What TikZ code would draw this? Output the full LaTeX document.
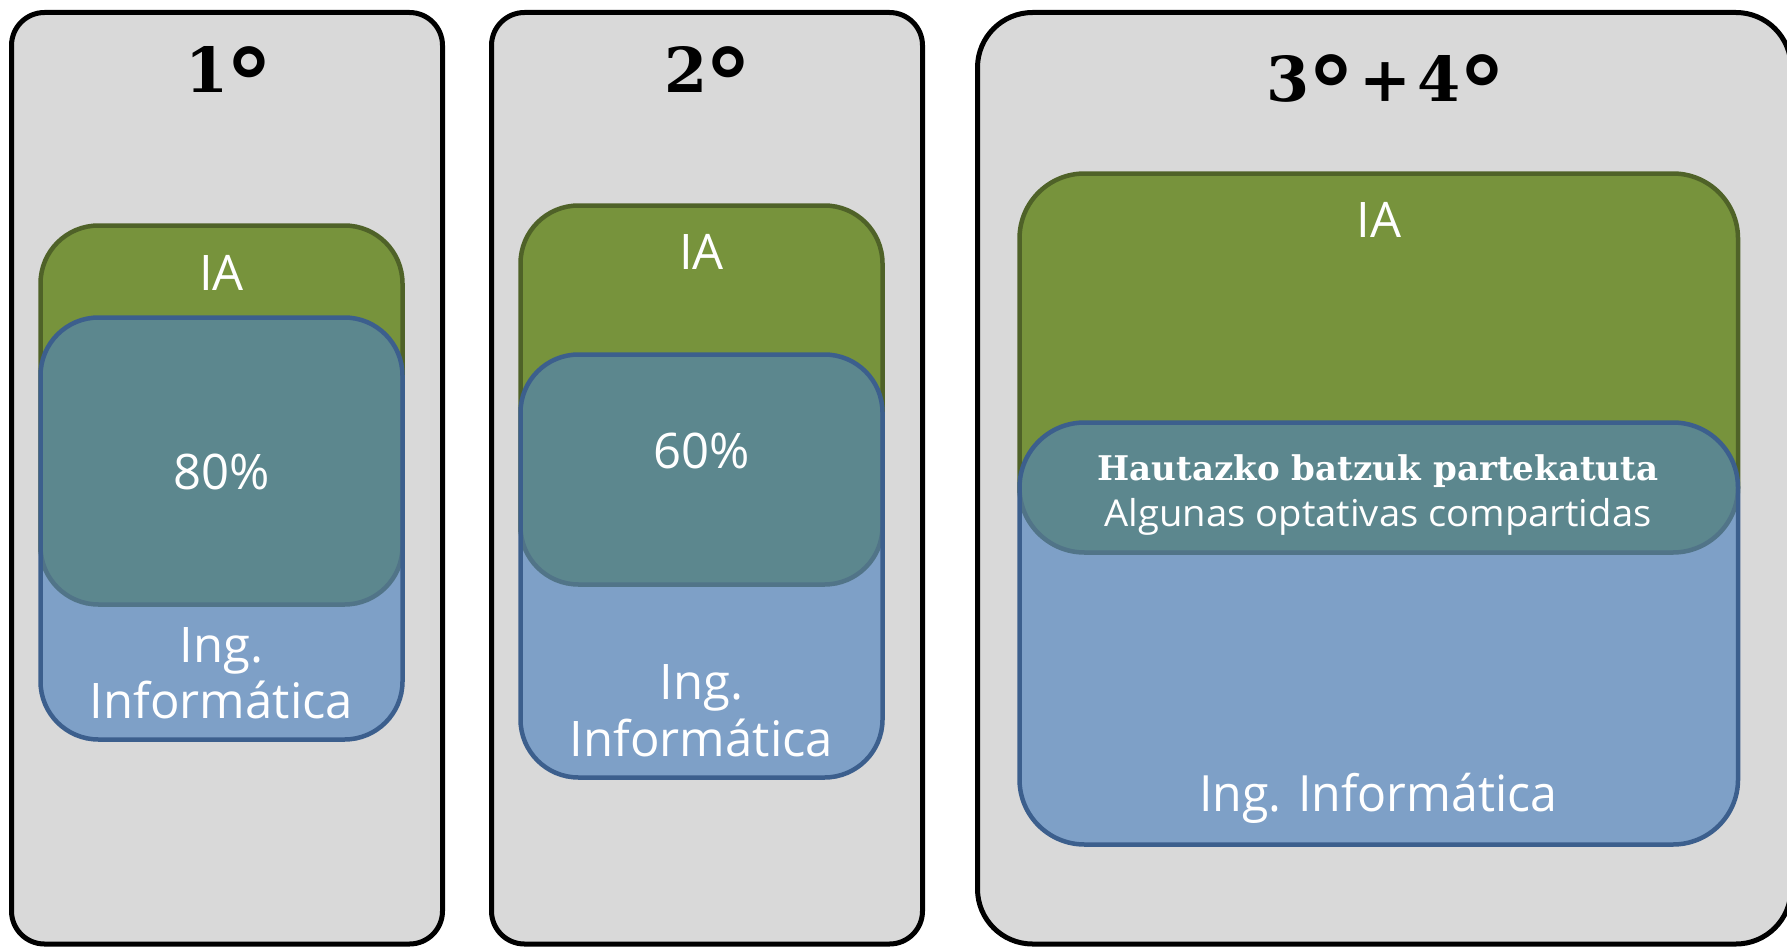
\documentclass[tikz,border=0pt]{standalone}
\usepackage{fontspec}
\usepackage{graphicx}
\setmainfont{Open Sans}
\newfontfamily\slabfont{DejaVu Serif}
\definecolor{panelgray}{HTML}{D9D9D9}
\definecolor{iagreen}{HTML}{77933C}
\definecolor{iagreenline}{HTML}{4F6228}
\definecolor{ingblue}{HTML}{7EA0C7}
\definecolor{ingblueline}{HTML}{3C5F8D}
\definecolor{overlapfill}{HTML}{5C878E}
\definecolor{overlapline}{HTML}{517488}
\newcommand\ordring{\kern-3pt{\fontsize{96}{96}\selectfont\raisebox{-25pt}{°}}\kern-3pt}
\newcommand\venncol[7]{%
  \fill[iagreen, rounded corners=#7pt] (#1,#3) rectangle (#2,#4);
  \draw[iagreenline, line width=4.5pt, rounded corners=#7pt] (#1,#3) rectangle (#2,#4);
  \fill[ingblue, rounded corners=#7pt] (#1,#5) rectangle (#2,#6);
  \begin{scope}
    \clip[rounded corners=#7pt] (#1,#5) rectangle (#2,#6);
    \fill[overlapfill, rounded corners=#7pt] (#1,#3) rectangle (#2,#4);
    \draw[overlapline, line width=4.5pt, rounded corners=#7pt] (#1,#3) rectangle (#2,#4);
  \end{scope}
  \draw[ingblueline, line width=4.5pt, rounded corners=#7pt] (#1,#5) rectangle (#2,#6);
}
\begin{document}
\begin{tikzpicture}[x=1pt,y=-1pt,
  panel/.style={fill=panelgray, draw=black, line width=5pt},
  lbl/.style={text=white, font=\fontsize{49}{57}\selectfont, inner sep=0pt, anchor=base},
  ttl/.style={text=black, font=\slabfont\bfseries\fontsize{62}{70}\selectfont, inner sep=0pt, anchor=base}]
\useasboundingbox (0,0) rectangle (1787,947);
% panels
\draw[panel, rounded corners=33pt] (11.5,12.5) rectangle (442.5,944);
\draw[panel, rounded corners=33pt] (491.5,12.5) rectangle (922.5,944);
\draw[panel, rounded corners=55pt] (977.5,12.5) rectangle (1791,944);
% boxes
\venncol{40.5}{402.5}{225.5}{604.5}{317.5}{739.5}{58}
\venncol{520.5}{882.5}{205.5}{584.5}{354.5}{777.5}{58}
\venncol{1019.5}{1738}{173.5}{552.5}{422.5}{844.5}{65}
% titles
\node[ttl] (t1) at (228,93) {1\ordring};
\node[ttl] (t2) at (707,93) {2\ordring};
\node[ttl] (t3) at (1385,102) {3\ordring\kern7pt+\kern7pt4\ordring};
% panel 1 labels
\node[lbl] (ia1) at (221.5,290) {IA};
\node[lbl] (p1) at (221.5,489) {80\%};
\node[lbl] (ing1a) at (221.5,662) {Ing.};
\node[lbl] (ing1b) at (221.5,718) {Informática};
% panel 2 labels
\node[lbl] (ia2) at (701.5,269) {IA};
\node[lbl] (p2) at (701.5,468) {60\%};
\node[lbl] (ing2a) at (701.5,699) {Ing.};
\node[lbl] (ing2b) at (701.5,756) {Informática};
% panel 3 labels
\node[lbl] (ia3) at (1379,237) {IA};
\node[lbl, font=\slabfont\bfseries\fontsize{34}{40}\selectfont] (sh3) at (1378,480) {\resizebox{561pt}{\height}{Hautazko batzuk partekatuta}};
\node[lbl, font=\fontsize{37}{44}\selectfont] (sh3b) at (1378,526) {\resizebox{547pt}{\height}{Algunas optativas compartidas}};
\node[lbl, font=\fontsize{50}{58}\selectfont] (ing3) at (1378,811) {\resizebox{358pt}{\height}{Ing. Informática}};
\end{tikzpicture}
\end{document}
